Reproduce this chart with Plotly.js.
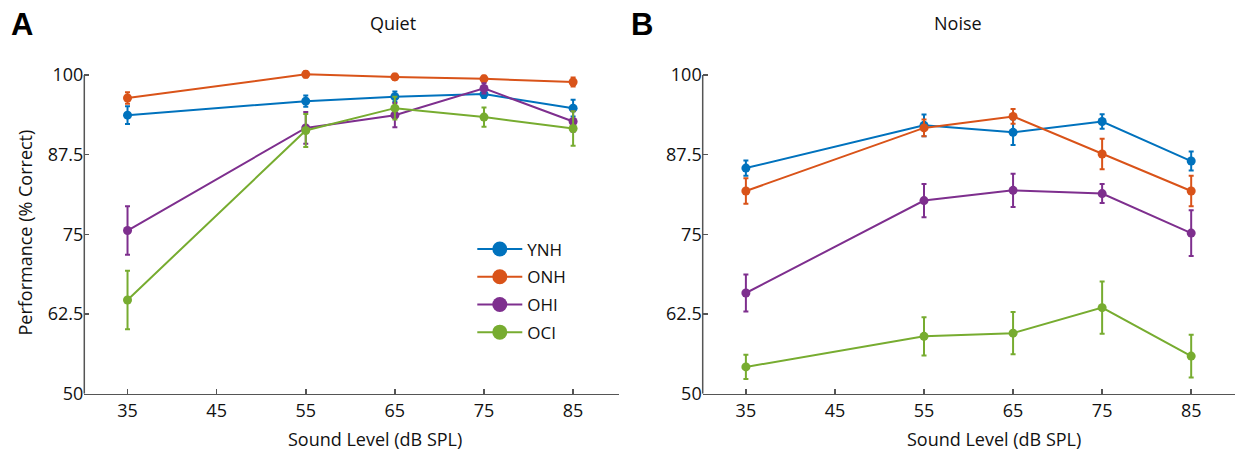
<!DOCTYPE html>
<html>
<head>
<meta charset="utf-8">
<script src="https://cdn.plot.ly/plotly-3.0.1.min.js"></script>
<style>html,body{margin:0;padding:0;background:#fff;}#chart{width:1235px;height:453px;}</style>
</head>
<body>
<div id="chart"></div>
<script>
// ---- data ----
var levels = [35, 55, 65, 75, 85];
var groups = ['YNH', 'ONH', 'OHI', 'OCI'];
var colors = ['#0072BD', '#D95319', '#7E2F8E', '#77AC30'];

// Quiet
var quietYNH = [93.7, 95.9, 96.6, 97.0, 94.8];
var quietYNHerr = [1.4, 0.9, 0.8, 0.6, 1.3];
var quietONH = [96.4, 100.1, 99.7, 99.4, 98.9];
var quietONHerr = [0.9, 0.5, 0.5, 0.5, 0.7];
var quietOHI = [75.6, 91.7, 93.7, 97.9, 92.7];
var quietOHIerr = [3.8, 2.5, 1.9, 0.8, 1.6];
var quietOCI = [64.7, 91.3, 94.8, 93.4, 91.6];
var quietOCIerr = [4.6, 2.6, 1.8, 1.5, 2.7];

// Noise
var noiseYNH = [85.4, 92.1, 91.0, 92.7, 86.5];
var noiseYNHerr = [1.2, 1.7, 2.0, 1.15, 1.5];
var noiseONH = [81.8, 91.7, 93.5, 87.6, 81.8];
var noiseONHerr = [2.0, 1.3, 1.15, 2.4, 2.4];
var noiseOHI = [65.8, 80.3, 81.9, 81.4, 75.2];
var noiseOHIerr = [2.9, 2.6, 2.6, 1.5, 3.6];
var noiseOCI = [54.2, 59.0, 59.5, 63.5, 55.9];
var noiseOCIerr = [1.9, 3.0, 3.3, 4.1, 3.35];

var xTicks = [35, 45, 55, 65, 75, 85];
var yTicks = [50, 62.5, 75, 87.5, 100];
var yTickText = ['50', '62.5', '75', '87.5', '100'];
var yMin = 50, yMax = 100;

// ---- build ----
var FONT = '"Open Sans", "Noto Sans", sans-serif';
var W = 1235, H = 453;
var AXC = '#555';
function px(x) { return x / W; }
function py(y) { return (H - y) / H; }
var pxPerUnit = (393.7 - 75) / (yMax - yMin);
var yTop = yMax + 1.2; // small headroom so points at 100 are not clipped

var quiet = [quietYNH, quietONH, quietOHI, quietOCI];
var quietErr = [quietYNHerr, quietONHerr, quietOHIerr, quietOCIerr];
var noise = [noiseYNH, noiseONH, noiseOHI, noiseOCI];
var noiseErr = [noiseYNHerr, noiseONHerr, noiseOHIerr, noiseOCIerr];

var traces = [];
function addSeries(vals, errs, xa, ya) {
  for (var i = 0; i < groups.length; i++) {
    traces.push({
      type: 'scatter', mode: 'lines+markers',
      x: levels, y: vals[i], xaxis: xa, yaxis: ya,
      name: groups[i], showlegend: false, cliponaxis: false,
      line: {color: colors[i], width: 2},
      marker: {color: colors[i], size: 9},
      error_y: {type: 'data', array: errs[i], visible: true, color: colors[i], thickness: 2, width: 2.5}
    });
  }
}
addSeries(quiet, quietErr, 'x', 'y');
addSeries(noise, noiseErr, 'x2', 'y2');
// legend entries
for (var i = 0; i < groups.length; i++) {
  traces.push({
    type: 'scatter', mode: 'lines+markers', x: [null], y: [null],
    name: groups[i], legendgroup: 'g' + i, showlegend: true,
    line: {color: colors[i], width: 2},
    marker: {color: colors[i], size: 15}
  });
}

function xAxis(domain, range, anchor) {
  return {
    domain: domain, range: range, anchor: anchor, tickvals: xTicks, ticktext: xTicks.map(String),
    ticks: 'inside', ticklen: 5, tickwidth: 1.5, tickcolor: AXC,
    showline: true, linecolor: AXC, linewidth: 1.5, showgrid: false, zeroline: false,
    tickfont: {family: FONT, size: 18, color: '#111'}, fixedrange: true
  };
}
function yAxis(anchor) {
  return {
    domain: [py(393.7), py(75 - (yTop - yMax) * pxPerUnit)], range: [yMin, yTop], anchor: anchor,
    tickvals: yTicks, ticktext: yTickText,
    ticks: 'inside', ticklen: 5, tickwidth: 1.5, tickcolor: AXC,
    showline: false, showgrid: false, zeroline: false,
    tickfont: {family: FONT, size: 18, color: '#111'}, fixedrange: true
  };
}

var ann = [];
function txt(t, x, y, size, opts) {
  var a = {text: t, x: px(x), y: py(y), xref: 'paper', yref: 'paper', showarrow: false,
    xanchor: 'center', yanchor: 'middle', font: {family: FONT, size: size, color: '#111'}};
  for (var k in (opts || {})) a[k] = opts[k];
  ann.push(a);
}
txt('<b>A</b>', 22.5, 25, 31, {font: {family: '"Liberation Sans", Arial, sans-serif', size: 31, color: '#000'}});
txt('<b>B</b>', 641.6, 25, 31, {font: {family: '"Liberation Sans", Arial, sans-serif', size: 31, color: '#000'}});
txt('Quiet', 393.3, 23, 18);
txt('Noise', 958, 23, 18);
txt('Sound Level (dB SPL)', 375.3, 439, 18);
txt('Sound Level (dB SPL)', 994, 439, 18);
txt('Performance (% Correct)', 24, 232.5, 18, {textangle: -90});

// y-axis lines, ending at the top tick (100)
var shapes = [
  {type: 'line', xref: 'x domain', yref: 'y', x0: 0, x1: 0, y0: yMin, y1: yMax, line: {color: AXC, width: 1.5}},
  {type: 'line', xref: 'x2 domain', yref: 'y2', x0: 0, x1: 0, y0: yMin, y1: yMax, line: {color: AXC, width: 1.5}}
];

var layout = {
  width: W, height: H, margin: {l: 0, r: 0, t: 0, b: 0},
  paper_bgcolor: '#fff', plot_bgcolor: 'rgba(0,0,0,0)',
  xaxis: xAxis([px(84.3), px(619)], [30.15, 90.15], 'y'),
  yaxis: yAxis('x'),
  xaxis2: xAxis([px(702.7), 1], [30.15, 89.92], 'y2'),
  yaxis2: yAxis('x2'),
  showlegend: true,
  legend: {x: px(472.3), y: py(231.5), xanchor: 'left', yanchor: 'top',
    bgcolor: 'rgba(0,0,0,0)', borderwidth: 0, itemwidth: 45, tracegroupgap: 2.6,
    font: {family: FONT, size: 17, color: '#111'}},
  annotations: ann,
  shapes: shapes
};

Plotly.newPlot('chart', traces, layout, {displayModeBar: false, staticPlot: true});
</script>
</body>
</html>
